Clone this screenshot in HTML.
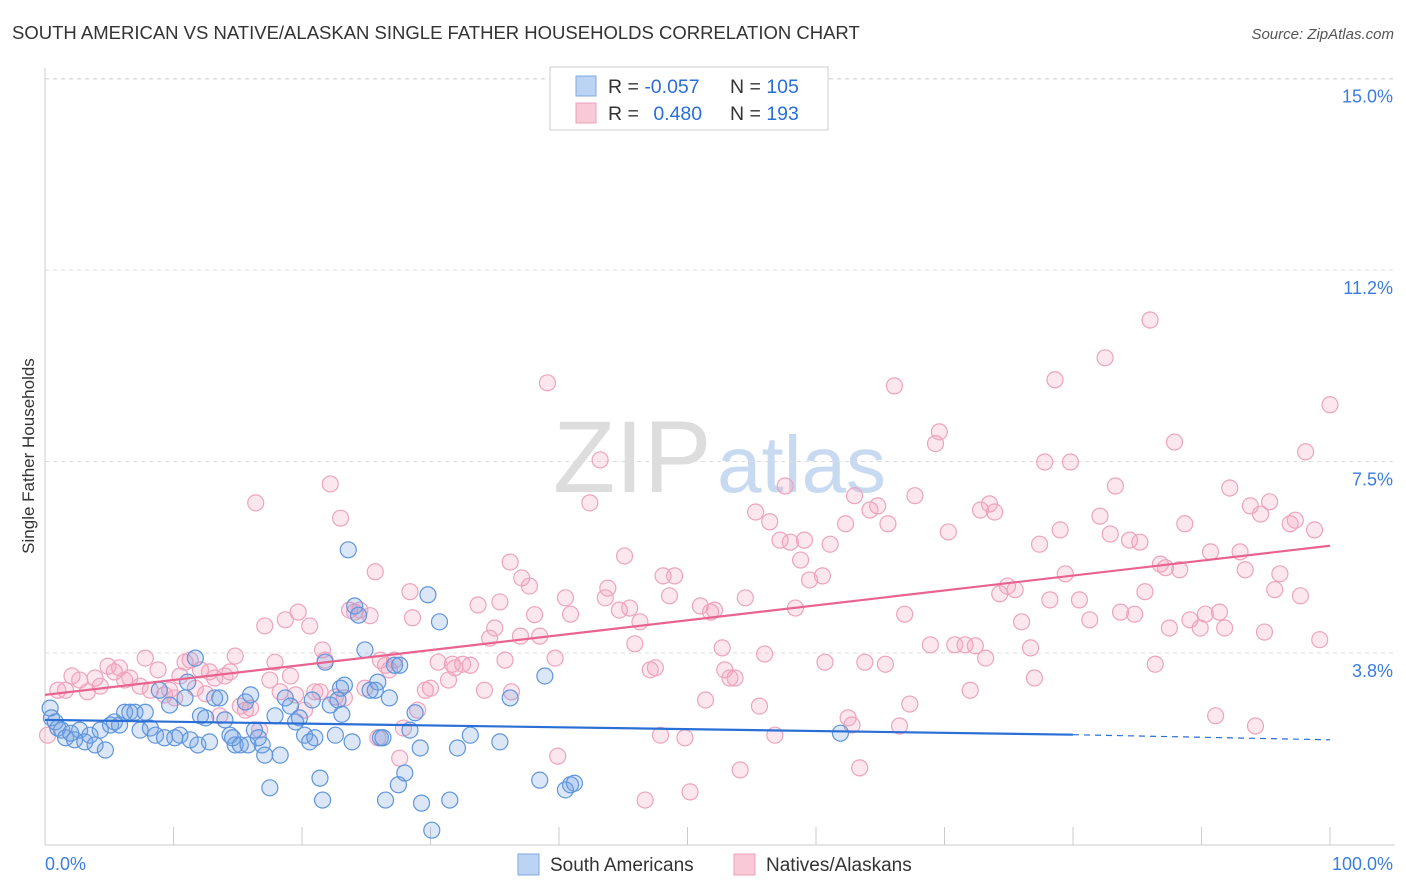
<!DOCTYPE html>
<html><head><meta charset="utf-8">
<style>
body{margin:0;background:#fff;font-family:"Liberation Sans",sans-serif;}
#wrap{position:relative;width:1406px;height:892px;overflow:hidden;}
svg text{font-family:"Liberation Sans",sans-serif;}
</style></head>
<body>
<div id="wrap">
<svg id="chart" width="1406" height="892" xmlns="http://www.w3.org/2000/svg">
<text x="12" y="39" font-size="18.5" fill="#333">SOUTH AMERICAN VS NATIVE/ALASKAN SINGLE FATHER HOUSEHOLDS CORRELATION CHART</text>
<text x="1394" y="39" font-size="15" fill="#555" font-style="italic" text-anchor="end">Source: ZipAtlas.com</text>
<text x="34" y="456" font-size="17" fill="#333" text-anchor="middle" transform="rotate(-90 34 456)">Single Father Households</text>
<g>
<text x="553" y="492" font-size="102" fill="#ddd" font-family="Liberation Serif,serif">ZIP</text>
<text x="717" y="492" font-size="80" fill="#c8daf2">atlas</text>
</g>
<g id="grid"></g><g id="axes"></g><g id="pts"></g><g id="trend"></g>
<g>
<rect x="550" y="67" width="278" height="63" fill="#fff" stroke="#ccc"/>
<rect x="576" y="76" width="20" height="20" fill="#bcd4f4" stroke="#7fa8e0"/>
<rect x="576" y="103" width="20" height="20" fill="#f8cad8" stroke="#eca0b8"/>
<text x="608" y="93" font-size="19.5" fill="#333">R = <tspan fill="#2a6fd6">-0.057</tspan></text>
<text x="730" y="93" font-size="19.5" fill="#333">N = <tspan fill="#2a6fd6">105</tspan></text>
<text x="608" y="120" font-size="19.5" fill="#333">R = <tspan fill="#2a6fd6" dx="9">0.480</tspan></text>
<text x="730" y="120" font-size="19.5" fill="#333">N = <tspan fill="#2a6fd6">193</tspan></text>
</g>
<g>
<rect x="518" y="854" width="21" height="21" fill="#bcd4f4" stroke="#7fa8e0"/>
<text x="550" y="871" font-size="19" fill="#333">South Americans</text>
<rect x="734" y="854" width="21" height="21" fill="#f8cad8" stroke="#eca0b8"/>
<text x="766" y="871" font-size="19" fill="#333">Natives/Alaskans</text>
</g>
</svg>
</div>
<script>
const yTicks=[3.75,7.5,11.25,15];
const yTickLabels=["3.8%","7.5%","11.2%","15.0%"];
const xTickCount=10;
const xLabels=["0.0%","100.0%"];
const blueX=[0.4,0.5,0.8,1.0,1.3,1.6,2.0,2.3,2.7,3.1,3.5,3.9,4.3,4.7,5.1,5.4,5.8,6.2,6.6,7.0,7.4,7.8,8.2,8.6,8.9,9.3,9.7,10.1,10.5,10.9,11.1,11.3,11.7,11.9,12.1,12.5,12.8,13.2,13.6,14.0,14.4,14.6,14.8,15.2,15.6,15.8,16.0,16.3,16.6,16.9,17.1,17.5,17.9,18.3,18.7,19.1,19.5,19.8,20.2,20.6,20.8,21.0,21.4,21.6,21.8,22.2,22.6,22.8,23.0,23.1,23.3,23.6,23.9,24.1,24.4,24.9,25.3,25.7,25.9,26.1,26.3,26.5,26.8,27.2,27.5,27.6,28.0,28.4,28.8,29.2,29.3,29.8,30.1,30.7,31.5,32.1,33.1,35.4,36.2,38.5,38.9,40.5,40.9,41.2,61.9];
const blueY=[2.67,2.48,2.40,2.28,2.24,2.09,2.18,2.05,2.24,2.01,2.14,1.95,2.24,1.85,2.34,2.40,2.34,2.59,2.59,2.59,2.24,2.59,2.28,2.14,3.02,2.09,2.73,2.09,2.14,2.87,3.18,2.05,3.65,1.95,2.52,2.48,2.01,2.87,2.87,2.44,2.14,2.09,1.95,1.95,2.79,1.95,2.93,2.24,2.09,1.95,1.75,1.11,2.52,1.75,2.87,2.71,2.40,2.48,2.14,2.01,2.83,2.09,1.30,0.87,3.57,2.73,2.14,2.83,3.06,2.55,3.12,5.77,2.01,4.67,4.49,3.81,3.02,3.02,3.18,2.09,2.09,0.87,2.87,3.51,1.17,3.51,1.40,2.24,2.58,1.89,0.81,4.89,0.28,4.36,0.87,1.89,2.14,2.01,2.87,1.26,3.30,1.07,1.17,1.20,2.18];
const pinkX=[0.2,1.0,1.6,2.1,2.7,3.3,3.9,4.3,4.9,5.4,5.8,6.2,6.6,7.4,7.8,8.2,8.8,9.3,9.7,10.1,10.5,10.9,11.3,11.7,12.1,12.5,12.8,13.2,13.6,14.0,14.4,14.8,15.2,15.6,16.0,16.4,16.7,17.1,17.5,17.9,18.3,18.7,19.1,19.5,19.7,20.2,20.6,21.0,21.4,21.6,21.8,22.2,22.6,23.0,23.3,23.7,24.1,24.5,24.9,25.3,25.7,25.9,26.1,26.5,26.8,27.2,27.6,27.9,28.4,28.6,29.0,29.6,30.0,30.6,31.4,31.7,31.9,32.5,33.1,33.7,34.2,34.6,35.0,35.4,35.8,36.2,36.3,37.0,37.1,37.7,38.1,38.5,39.1,39.7,39.9,40.5,40.9,42.4,43.2,43.6,43.8,44.7,45.1,45.5,45.9,46.3,46.7,47.1,47.5,47.9,48.1,48.6,49.0,49.8,50.2,51.0,51.4,51.8,52.1,52.7,52.9,53.3,53.7,54.1,54.5,55.3,55.6,56.0,56.4,56.8,57.2,57.6,58.0,58.4,58.8,59.1,59.5,60.5,60.7,61.1,62.3,62.5,62.8,63.0,63.4,63.8,64.2,64.8,65.4,65.6,66.1,66.5,66.9,67.3,67.7,68.9,69.3,69.6,70.3,70.8,71.6,72.0,72.4,72.8,73.2,73.5,73.9,74.3,74.9,75.5,76.0,76.7,77.0,77.4,77.8,78.2,78.6,79.0,79.4,79.8,80.5,81.3,82.1,82.5,82.9,83.3,83.7,84.4,84.8,85.2,85.6,86.0,86.4,86.8,87.2,87.5,87.9,88.3,88.7,89.1,89.9,90.3,90.7,91.1,91.4,91.8,92.2,93.0,93.4,93.8,94.2,94.6,94.9,95.3,95.7,96.1,96.9,97.3,97.7,98.1,98.8,99.2,100.0];
const pinkY=[2.14,3.02,3.02,3.30,3.22,2.99,3.26,3.10,3.49,3.38,3.46,3.22,3.26,3.10,3.65,3.02,3.42,2.93,3.02,2.87,3.30,3.57,3.61,3.06,3.42,2.95,3.38,3.26,2.52,3.30,3.38,3.69,2.71,2.63,2.67,6.69,2.24,4.28,3.22,3.57,2.99,4.40,3.30,2.93,4.55,2.63,4.28,2.99,2.99,3.81,3.61,7.06,2.89,6.39,2.87,4.59,4.55,4.59,3.06,4.48,5.34,2.09,3.61,3.51,3.42,3.61,1.69,2.28,4.95,4.44,2.63,3.02,3.06,3.57,3.22,3.53,3.46,3.53,3.51,4.69,3.02,4.04,4.24,4.75,3.61,5.53,2.99,4.08,5.22,5.06,4.50,4.08,9.04,3.65,1.73,4.83,4.51,6.69,7.53,4.83,5.02,4.59,5.65,4.63,3.93,4.36,0.87,3.42,3.46,2.14,5.26,4.87,5.26,2.09,1.03,4.67,2.83,4.55,4.59,3.85,3.42,3.26,3.26,1.46,4.83,6.51,2.71,3.73,6.32,2.14,5.96,7.02,5.92,4.63,5.57,5.96,5.18,5.26,3.57,5.88,6.28,2.48,2.34,6.83,1.50,3.57,6.55,6.63,3.53,6.28,8.98,2.32,4.51,2.75,6.83,3.91,7.85,8.08,6.12,3.91,3.91,3.02,3.89,6.55,3.65,6.67,6.51,4.91,5.06,4.99,4.36,3.85,3.26,5.88,7.49,4.79,9.10,6.16,5.30,7.49,4.79,4.40,6.43,9.53,6.08,7.02,4.55,5.96,4.51,5.92,4.95,10.27,3.53,5.49,5.42,4.24,7.88,5.38,6.28,4.40,4.24,4.51,5.73,2.52,4.55,4.24,6.98,5.73,5.38,6.63,2.32,6.47,4.16,6.71,4.99,5.30,6.28,6.35,4.87,7.69,6.16,4.01,8.61];
const blueTrendX=[0,80,100];
const blueTrendY=[2.44,2.15,2.05];
const pinkTrendX=[0,100];
const pinkTrendY=[2.93,5.85];

const X0=45,X1=1330,YB=844.5,PXPER=51.07;
const sx=v=>X0+(X1-X0)*v/100;
const sy=v=>YB-v*PXPER;
const NS="http://www.w3.org/2000/svg";
function mk(tag,attrs,parent){const e=document.createElementNS(NS,tag);for(const k in attrs)e.setAttribute(k,attrs[k]);parent.appendChild(e);return e;}
const gridG=document.getElementById('grid'),axesG=document.getElementById('axes'),ptsG=document.getElementById('pts'),trendG=document.getElementById('trend');
yTicks.forEach((t,i)=>{
  const l=mk('line',{x1:X0,x2:1395,y1:sy(t),y2:sy(t),stroke:'#ddd','stroke-dasharray':'4,4'},gridG);
  
  
  const tx=mk('text',{x:1393,y:sy(t)+24,'font-size':18,fill:'#3b7ddd','text-anchor':'end'},axesG);
  tx.textContent=yTickLabels[i];
  
  
});
const topLine=mk('line',{x1:X0,x2:1395,y1:79,y2:79,stroke:'#ddd','stroke-dasharray':'4,4'},gridG);


const ya=mk('line',{x1:X0,x2:X0,y1:68,y2:845,stroke:'#ccc'},axesG);


const xa=mk('line',{x1:X0,x2:1395,y1:845,y2:845,stroke:'#ccc'},axesG);


for(let i=0;i<=xTickCount;i++){
  const x=sx(i*100/xTickCount);
  const t=mk('line',{x1:x,x2:x,y1:827,y2:845,stroke:'#ccc'},axesG);
  
  
}
const xl0=mk('text',{x:45,y:870,'font-size':18,fill:'#3b7ddd'},axesG);xl0.textContent=xLabels[0];


const xl1=mk('text',{x:1393,y:870,'font-size':18,fill:'#3b7ddd','text-anchor':'end'},axesG);xl1.textContent=xLabels[1];


pinkX.forEach((v,i)=>{
  const c=mk('circle',{cx:sx(v),cy:sy(pinkY[i]),r:8,fill:'rgba(244,160,188,0.25)',stroke:'#eea3bd','stroke-width':1.2},ptsG);
  
  
});
blueX.forEach((v,i)=>{
  const c=mk('circle',{cx:sx(v),cy:sy(blueY[i]),r:8,fill:'rgba(110,160,225,0.25)',stroke:'#5f95dc','stroke-width':1.2},ptsG);
  
  
});
const pl=mk('line',{x1:sx(pinkTrendX[0]),y1:sy(pinkTrendY[0]),x2:sx(pinkTrendX[1]),y2:sy(pinkTrendY[1]),stroke:'#e8648f','stroke-width':2.2},trendG);


const bl=mk('line',{x1:sx(blueTrendX[0]),y1:sy(blueTrendY[0]),x2:sx(blueTrendX[1]),y2:sy(blueTrendY[1]),stroke:'#2a6fd6','stroke-width':2.2},trendG);


const bd=mk('line',{x1:sx(blueTrendX[1]),y1:sy(blueTrendY[1]),x2:sx(blueTrendX[2]),y2:sy(blueTrendY[2]),stroke:'#2a6fd6','stroke-width':1.2,'stroke-dasharray':'6,5'},trendG);


</script>
</body></html>
